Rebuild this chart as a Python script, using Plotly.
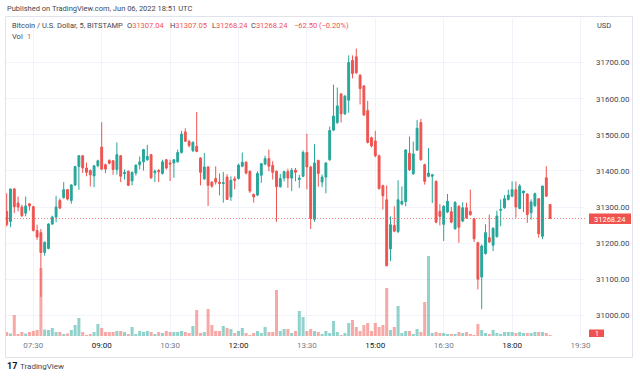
import pandas as pd
import plotly.graph_objects as go

# ---------------- data ----------------
TIMES = pd.date_range("2022-06-06 06:55", periods=144, freq="5min")

OPEN = [31288, 31260, 31350, 31311, 31300, 31283, 31309, 31301, 31235, 31229,
        31174, 31185, 31253, 31272, 31318, 31326, 31348, 31318, 31361, 31412,
        31442, 31408, 31401, 31386, 31414, 31466, 31417, 31429, 31428, 31404,
        31442, 31392, 31399, 31372, 31394, 31417, 31425, 31431, 31445, 31395,
        31401, 31393, 31431, 31422, 31422, 31425, 31451, 31508, 31482, 31456,
        31468, 31436, 31378, 31411, 31369, 31379, 31369, 31365, 31383, 31328,
        31378, 31379, 31413, 31424, 31399, 31335, 31333, 31388, 31419, 31434,
        31415, 31399, 31356, 31380, 31398, 31380, 31402, 31376, 31385, 31451,
        31411, 31266, 31429, 31369, 31383, 31431, 31513, 31534, 31613, 31558,
        31596, 31706, 31716, 31665, 31635, 31567, 31492, 31483, 31442, 31359,
        31320, 31184, 31249, 31232, 31308, 31315, 31449, 31392, 31458, 31534,
        31417, 31385, 31385, 31371, 31288, 31252, 31286, 31287, 31240, 31302,
        31261, 31298, 31288, 31267, 31201, 31106, 31171, 31215, 31194, 31218,
        31291, 31298, 31321, 31330, 31348, 31296, 31339, 31336, 31284, 31304,
        31323, 31219, 31381, 31307.04]

HIGH = [31338, 31350, 31352, 31329, 31306, 31329, 31310, 31303, 31251, 31239,
        31205, 31255, 31276, 31331, 31324, 31369, 31350, 31363, 31414, 31444,
        31444, 31423, 31404, 31416, 31431, 31535, 31420, 31432, 31430, 31479,
        31444, 31404, 31401, 31398, 31418, 31440, 31461, 31472, 31447, 31404,
        31405, 31431, 31433, 31431, 31433, 31459, 31511, 31518, 31486, 31482,
        31563, 31438, 31450, 31413, 31371, 31413, 31393, 31397, 31391, 31385,
        31385, 31420, 31451, 31427, 31401, 31337, 31399, 31422, 31442, 31459,
        31427, 31401, 31392, 31400, 31406, 31408, 31408, 31389, 31457, 31503,
        31414, 31474, 31431, 31390, 31424, 31523, 31639, 31631, 31616, 31610,
        31720, 31720, 31739, 31668, 31638, 31594, 31495, 31511, 31445, 31362,
        31360, 31274, 31302, 31374, 31357, 31460, 31495, 31481, 31541, 31544,
        31420, 31463, 31392, 31374, 31308, 31305, 31336, 31300, 31316, 31305,
        31313, 31312, 31348, 31270, 31204, 31196, 31252, 31279, 31244, 31290,
        31321, 31333, 31348, 31371, 31371, 31364, 31346, 31338, 31321, 31340,
        31325, 31359, 31413, 31307.05]

LOW = [31246, 31244, 31283, 31288, 31272, 31274, 31290, 31232, 31209, 31051,
       31165, 31183, 31250, 31258, 31294, 31323, 31318, 31309, 31358, 31348,
       31394, 31385, 31357, 31355, 31410, 31402, 31394, 31418, 31389, 31390,
       31369, 31376, 31358, 31360, 31387, 31404, 31401, 31428, 31378, 31369,
       31369, 31390, 31404, 31372, 31381, 31423, 31448, 31480, 31465, 31452,
       31452, 31360, 31375, 31303, 31353, 31362, 31332, 31312, 31319, 31317,
       31349, 31376, 31410, 31390, 31339, 31312, 31330, 31367, 31416, 31399,
       31376, 31259, 31354, 31371, 31353, 31344, 31371, 31353, 31383, 31349,
       31239, 31259, 31356, 31355, 31338, 31428, 31510, 31530, 31534, 31555,
       31561, 31656, 31668, 31584, 31552, 31476, 31465, 31438, 31348, 31293,
       31137, 31150, 31230, 31228, 31305, 31302, 31400, 31389, 31455, 31428,
       31362, 31382, 31311, 31255, 31249, 31206, 31283, 31255, 31237, 31201,
       31258, 31267, 31276, 31203, 31072, 31017, 31168, 31201, 31178, 31215,
       31247, 31295, 31318, 31327, 31270, 31294, 31286, 31256, 31265, 31300,
       31215, 31211, 31328, 31268.24]

CLOSE = [31251, 31350, 31301, 31300, 31276, 31303, 31303, 31235, 31217, 31174,
         31202, 31253, 31272, 31300, 31297, 31348, 31322, 31361, 31412, 31442,
         31408, 31396, 31389, 31414, 31428, 31405, 31405, 31421, 31404, 31445,
         31385, 31396, 31360, 31396, 31416, 31425, 31459, 31440, 31381, 31399,
         31398, 31425, 31408, 31419, 31431, 31451, 31502, 31482, 31470, 31479,
         31454, 31396, 31411, 31360, 31358, 31369, 31365, 31367, 31321, 31374,
         31374, 31416, 31424, 31394, 31344, 31328, 31393, 31420, 31434, 31413,
         31396, 31356, 31379, 31398, 31380, 31402, 31396, 31380, 31451, 31411,
         31268, 31422, 31393, 31383, 31422, 31512, 31552, 31580, 31558, 31607,
         31700, 31670, 31672, 31628, 31555, 31479, 31469, 31442, 31351, 31331,
         31137, 31251, 31233, 31320, 31316, 31458, 31403, 31447, 31518, 31431,
         31371, 31394, 31389, 31258, 31274, 31302, 31316, 31258, 31313, 31244,
         31298, 31270, 31279, 31212, 31100, 31192, 31229, 31203, 31241, 31275,
         31293, 31323, 31333, 31348, 31300, 31358, 31344, 31279, 31314, 31337,
         31226, 31358, 31330, 31268.24]

VOLUME = [4, 2.5, 21, 2, 4, 2.5, 4, 5, 6, 68,
          6.5, 6, 8, 4, 4, 2, 2.5, 6, 11, 18,
          4, 1, 2, 4, 12, 8, 4, 4, 4, 5,
          5, 4, 2, 9, 2, 5, 4, 5, 4, 2,
          4, 3, 5, 4, 4, 4, 5, 4, 3, 10,
          26, 3, 4, 27, 11, 5, 5, 10, 8, 7,
          3, 5, 8, 3, 1, 3, 5, 3, 9, 4,
          4, 46, 5, 7, 7, 3, 5, 25, 19, 5,
          7, 5, 4, 2, 5, 3, 15, 4, 1, 3,
          13, 16, 9, 5, 11, 13, 5, 13, 9, 11,
          48, 6, 9, 30, 3, 5, 5, 2, 7, 4,
          34, 80, 3, 4, 3, 3, 2, 2, 2, 4,
          3, 4, 2, 1, 12, 6, 3, 2, 6, 3,
          2, 4, 4, 4, 3, 4, 3, 3, 3, 4,
          4, 4, 3, 1]

PRICE_TICKS = [31000, 31100, 31200, 31300, 31400, 31500, 31600, 31700]
TIME_LABELS = ["07:30", "09:00", "10:30", "12:00", "13:30", "15:00", "16:30", "18:00", "19:30"]
MAJOR_TIMES = ["09:00", "12:00", "15:00", "18:00"]
LAST_PRICE = 31268.24

UP = "#26a69a"
DOWN = "#ef5350"
FONT = "Roboto"

# ---------------- geometry helpers ----------------
W, H = 640, 376
ML, MR, MT, MB = 5, 55, 18, 40
PW, PH = W - ML - MR, H - MT - MB


def px(x):
    return (x - ML) / PW


def py(y):
    return (H - MB - y) / PH


vol_colors = ["rgba(38,166,154,0.5)" if c >= o else "rgba(239,83,80,0.5)"
              for o, c in zip(OPEN, CLOSE)]

fig = go.Figure()
fig.add_trace(go.Bar(x=TIMES, y=VOLUME, marker_color=vol_colors, marker_line_width=0,
                     yaxis="y2", showlegend=False, hoverinfo="skip"))
fig.add_trace(go.Candlestick(
    x=TIMES, open=OPEN, high=HIGH, low=LOW, close=CLOSE,
    increasing=dict(line=dict(color=UP, width=1), fillcolor=UP),
    decreasing=dict(line=dict(color=DOWN, width=1), fillcolor=DOWN),
    whiskerwidth=0, showlegend=False))

tickvals = [f"2022-06-06 {t}" for t in TIME_LABELS]
ticktext = [f"<span style='color:#131722'>{t}</span>" if t in MAJOR_TIMES else t
            for t in TIME_LABELS]

fig.update_layout(
    width=W, height=H,
    margin=dict(l=ML, r=MR, t=MT, b=MB),
    paper_bgcolor="white", plot_bgcolor="white",
    font=dict(family=FONT, size=8, color="#787b86"),
    bargap=0.2,
    xaxis=dict(type="date", range=["2022-06-06 06:52:47", "2022-06-06 19:35:56"],
               tickvals=tickvals, ticktext=ticktext, showgrid=True,
               gridcolor="#f0f3fa", gridwidth=1, zeroline=False, showline=False,
               rangeslider=dict(visible=False), ticks="", ticklabelstandoff=3,
               tickfont=dict(size=8, color="#787b86")),
    yaxis=dict(side="right", range=[30942.7, 31823.5], tickvals=PRICE_TICKS,
               ticktext=[f"{v:.2f}" for v in PRICE_TICKS], showgrid=True,
               gridcolor="#f0f3fa", zeroline=False, showline=False, ticks="",
               ticklabelstandoff=10, tickfont=dict(size=8, color="#434651")),
    yaxis2=dict(overlaying="y", range=[0, PH], visible=False),
)

shapes = [
    # outer frame
    dict(type="rect", xref="paper", yref="paper", x0=px(5.5), x1=px(632.5),
         y0=py(357.5), y1=py(16.5), line=dict(color="#e0e3eb", width=1)),
    # last price dotted line
    dict(type="line", xref="paper", yref="y", x0=0, x1=1, y0=LAST_PRICE, y1=LAST_PRICE,
         line=dict(color="rgba(239,83,80,0.75)", width=1, dash="1px,2px")),
    # last price label box
    dict(type="rect", xref="paper", yref="paper", x0=px(589), x1=px(631),
         y0=py(224), y1=py(213.5), fillcolor=DOWN, line=dict(width=0)),
    # volume label box
    dict(type="rect", xref="paper", yref="paper", x0=px(589), x1=px(604),
         y0=py(337), y1=py(329.5), fillcolor=DOWN, line=dict(width=0)),
]
fig.update_layout(shapes=shapes)


def ann(x, y, text, size=8, color="#131722", xanchor="left"):
    fig.add_annotation(x=px(x), y=py(y), xref="paper", yref="paper", text=text,
                       showarrow=False, xanchor=xanchor, yanchor="middle",
                       font=dict(family=FONT, size=size, color=color))


red = lambda s: f"<span style='color:{DOWN}'>{s}</span>"

ann(5, 9, "Published on TradingView.com, Jun 06, 2022 18:51 UTC", 7.5, "#434651")
ann(10, 25.5, "Bitcoin / U.S. Dollar, 5, BITSTAMP", 7.5, "#434651")
ann(125, 25.5, "O" + red("31307.04"), 7.5, "#434651")
ann(168, 25.5, "H" + red("31307.05"), 7.5, "#434651")
ann(210, 25.5, "L" + red("31268.24"), 7.5, "#434651")
ann(249, 25.5, "C" + red("31268.24"), 7.5, "#434651")
ann(292, 25.5, red("\u221262.50 (\u22120.20%)"), 7.5, "#434651")
ann(10, 36.5, "Vol", 7.5, "#434651")
ann(25, 36.5, red("1"), 7.5, "#434651")
ann(595, 25.5, "USD", 7.5, "#434651")
ann(610, 219, f"{LAST_PRICE:.2f}", 7.5, "white", xanchor="center")
ann(596.5, 333.5, "1", 7, "white", xanchor="center")
ann(5, 366, "<b>17</b>", 9, "#131722")
ann(18, 366, "TradingView", 8, "#434651")

fig.write_html("out.html", config={"displayModeBar": False},
               post_script="document.body.style.margin='0';")
